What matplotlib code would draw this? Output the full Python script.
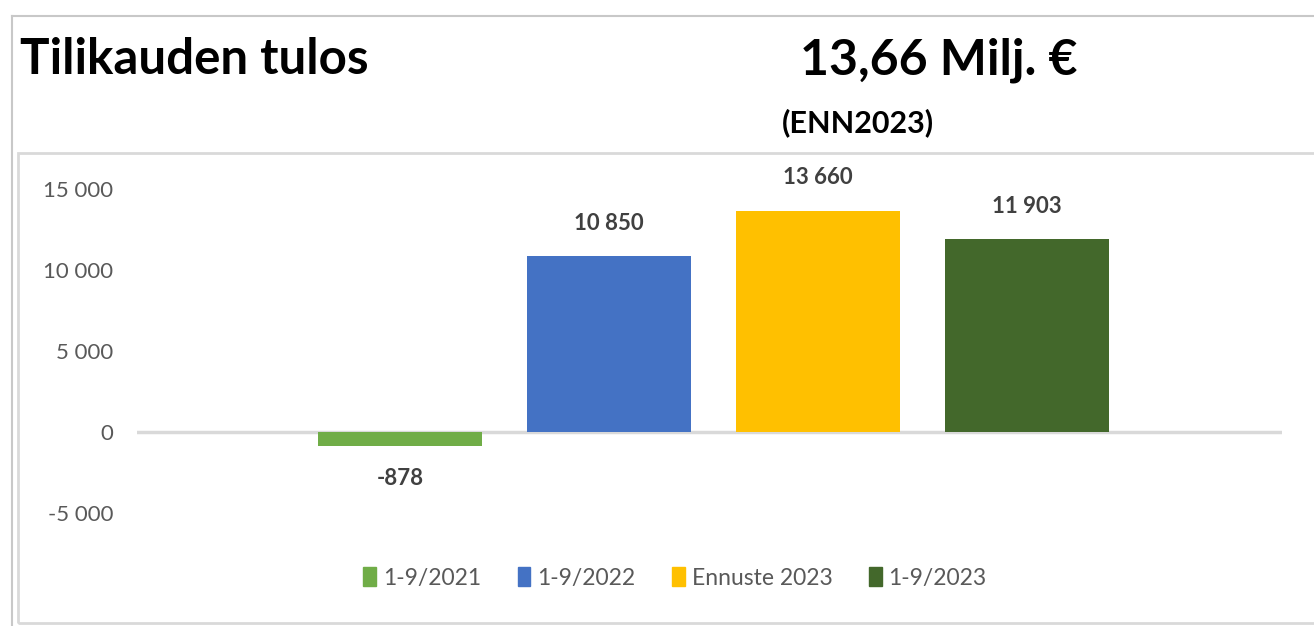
import matplotlib.pyplot as plt
from matplotlib.patches import Rectangle
from matplotlib.lines import Line2D

# data
series = ["1-9/2021", "1-9/2022", "Ennuste 2023", "1-9/2023"]
values = [-878, 10850, 13660, 11903]
colors = ["#70AD47", "#4472C4", "#FFC000", "#43682B"]
yticks = [-5000, 0, 5000, 10000, 15000]

title = "Tilikauden tulos"
headline = "13,66 Milj. €"
subline = "(ENN2023)"

FONT = "Lato"


def fmt(v):
    return f"{v:,.0f}".replace(",", " ")


def main():
    W, H = 1314, 626
    fig = plt.figure(figsize=(W / 100, H / 100), dpi=100)
    plt.rcParams["font.family"] = [FONT, "DejaVu Sans"]

    # frame lines of the slide/box
    fig.add_artist(Line2D([12 / W, 1], [1 - 16 / H, 1 - 16 / H], color="#C8C8C8", lw=1.5))
    fig.add_artist(Line2D([12 / W, 12 / W], [0, 1 - 16 / H], color="#C8C8C8", lw=1.5))
    fig.add_artist(Rectangle((18 / W, 3 / H), 1.2, (623 - 153) / H, transform=fig.transFigure,
                             fill=False, edgecolor="#D9D9D9", lw=2))

    # titles
    fig.text(20 / W, 1 - 60 / H, title, fontsize=35.5, fontweight="bold", va="center", ha="left")
    fig.text(939 / W, 1 - 60 / H, headline, fontsize=36, fontweight="bold", va="center", ha="center")
    fig.text(858 / W, 1 - 123 / H, subline, fontsize=22, fontweight="bold", va="center", ha="center")

    # axes
    ax = fig.add_axes([137 / W, 1 - 553.5 / H, (1282 - 137) / W, (553.5 - 156.6) / H])
    x = range(len(values))
    bars = ax.bar(x, values, width=0.785, color=colors, label=series)
    ax.set_xlim(-1.26, 4.22)
    ax.set_ylim(-7500, 17000)
    ax.axhline(0, color="#D9D9D9", lw=2.5, zorder=0)

    for s in ax.spines.values():
        s.set_visible(False)
    ax.set_xticks([])
    ax.set_yticks(yticks)
    ax.set_yticklabels([fmt(v) for v in yticks])
    ax.tick_params(axis="y", length=0, pad=17, labelsize=16, labelcolor="#595959")

    ax.bar_label(bars, labels=[fmt(v) for v in values], padding=16,
                 fontsize=16, fontweight="bold", color="#404040")

    handles = [Rectangle((0, 0), 1, 1, color=c) for c in colors]
    fig.legend(handles, series, loc="center", bbox_to_anchor=(675 / W, 1 - 578 / H), ncol=4,
               frameon=False, fontsize=16.5, labelcolor="#595959", handlelength=0.55,
               handleheight=0.9, handletextpad=0.3, columnspacing=1.6)

    fig.savefig("out.png", dpi=100)


main()
